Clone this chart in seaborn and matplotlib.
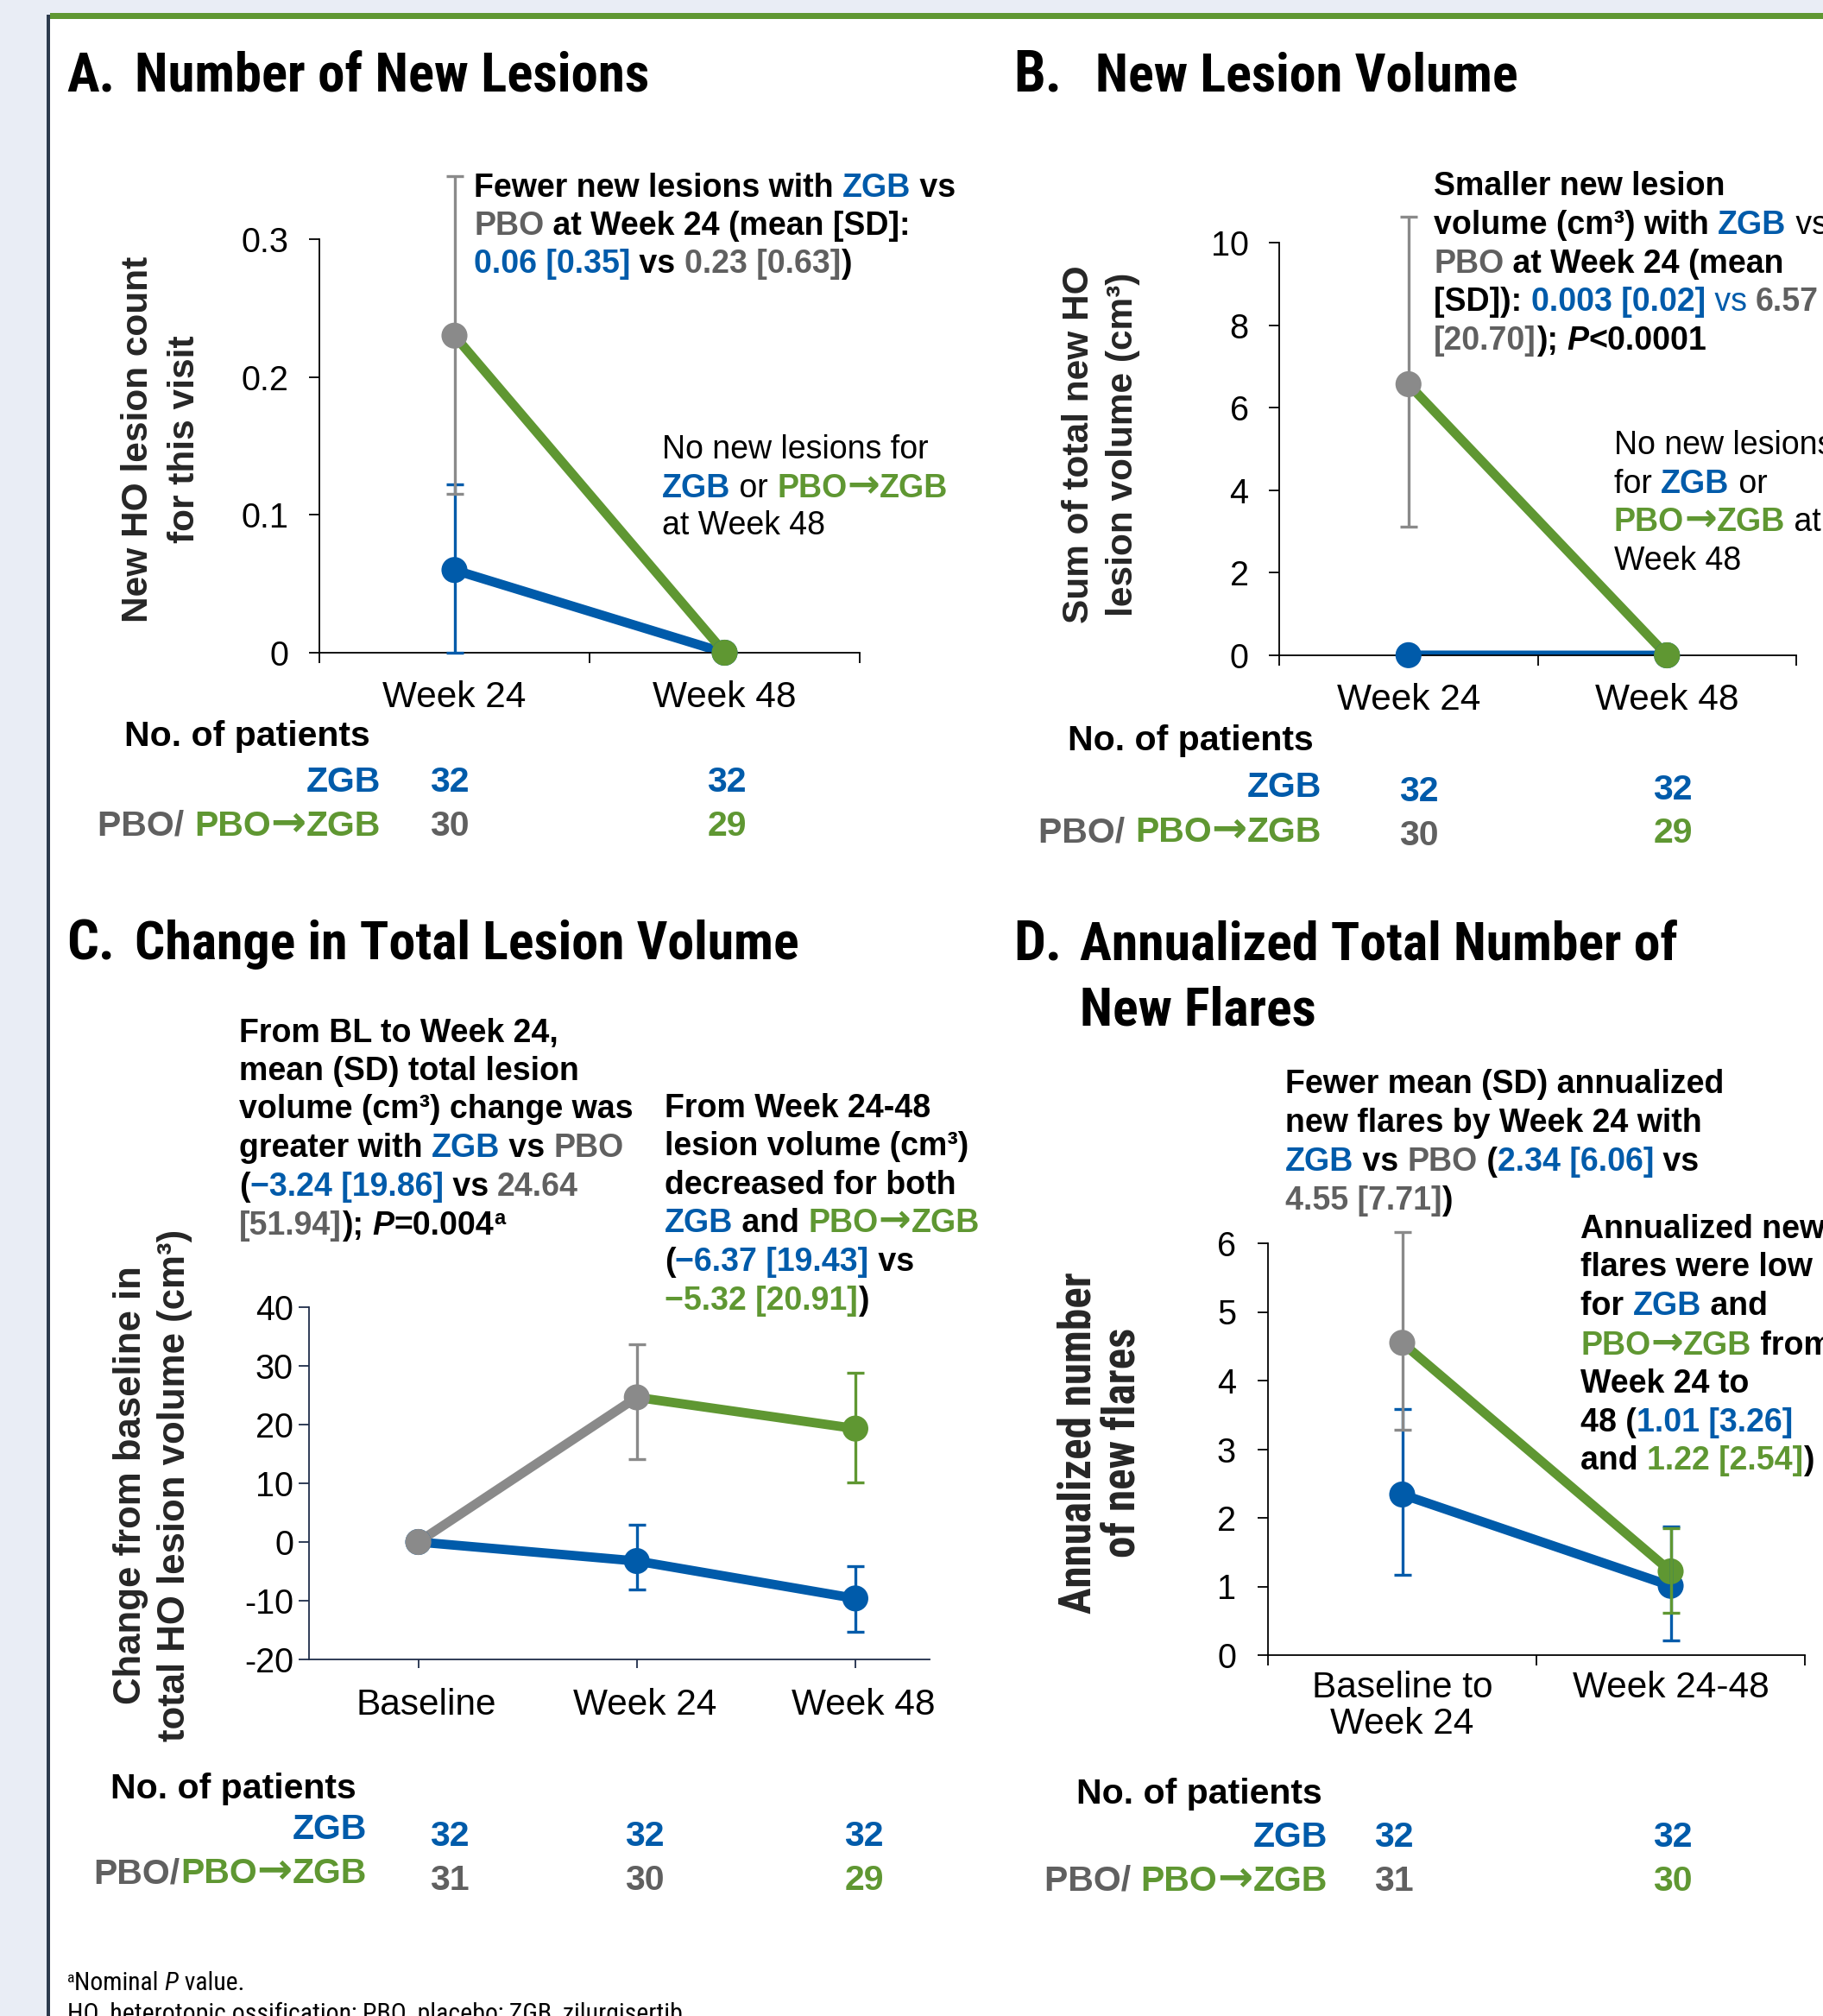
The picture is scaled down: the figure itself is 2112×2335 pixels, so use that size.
import numpy as np
import pandas as pd
import matplotlib
matplotlib.use("Agg")
import matplotlib.pyplot as plt
from matplotlib.patches import Rectangle
from matplotlib.transforms import ScaledTranslation
from matplotlib import font_manager
import seaborn as sns

sns.set_theme(style="white")
plt.rcParams['font.family'] = ['Liberation Sans', 'DejaVu Sans']
plt.rcParams['axes.unicode_minus'] = False

W, H = 2112, 2335
BLUE = '#005baa'
GREEN = '#5f9732'
GREY = '#8a8a8a'
GREY_TXT = '#606060'
BG = '#e9edf5'

SANS = dict(family=['Liberation Sans', 'DejaVu Sans'])
ARROW = dict(family=['DejaVu Sans'])
_names = {f.name for f in font_manager.fontManager.ttflist}
_narrow = [n for n in ['Liberation Sans Narrow', 'Arial Narrow', 'Roboto Condensed',
                       'Noto Sans Condensed', 'Open Sans Condensed'] if n in _names]
if _narrow:
    NARROW = dict(family=[_narrow[0], 'Liberation Sans', 'DejaVu Sans'])
else:
    NARROW = dict(family=['Roboto', 'Liberation Sans', 'DejaVu Sans'])

PALETTE = {'ZGB': BLUE, 'PBO': GREY, 'PBO→ZGB': GREEN}
NUM_COL = {'ZGB': BLUE, 'PBO': GREY_TXT, 'PBO→ZGB': GREEN}

# ---- A. number of new lesions
a_cats = ['Week 24', 'Week 48']
a_zgb = [0.06, 0.0]
a_zgb_lo = [0.0, np.nan]
a_zgb_hi = [0.122, np.nan]
a_ctl_arm = ['PBO', 'PBO→ZGB']
a_ctl = [0.23, 0.0]
a_ctl_lo = [0.115, np.nan]
a_ctl_hi = [0.346, np.nan]
a_n_zgb = [32, 32]
a_n_ctl = [30, 29]

# ---- B. new lesion volume
b_cats = ['Week 24', 'Week 48']
b_zgb = [0.003, 0.0]
b_zgb_lo = [np.nan, np.nan]
b_zgb_hi = [np.nan, np.nan]
b_ctl_arm = ['PBO', 'PBO→ZGB']
b_ctl = [6.57, 0.0]
b_ctl_lo = [3.12, np.nan]
b_ctl_hi = [10.63, np.nan]
b_n_zgb = [32, 32]
b_n_ctl = [30, 29]

# ---- C. change in total lesion volume
c_cats = ['Baseline', 'Week 24', 'Week 48']
c_zgb = [0.0, -3.24, -9.61]
c_zgb_lo = [np.nan, -8.1, -15.3]
c_zgb_hi = [np.nan, 2.9, -4.1]
c_ctl_arm = ['PBO', 'PBO', 'PBO→ZGB']
c_ctl = [0.0, 24.64, 19.32]
c_ctl_lo = [np.nan, 14.1, 10.1]
c_ctl_hi = [np.nan, 33.7, 28.8]
c_n_zgb = [32, 32, 32]
c_n_ctl = [31, 30, 29]

# ---- D. annualized new flares
d_cats = ['Baseline to\nWeek 24', 'Week 24-48']
d_zgb = [2.34, 1.01]
d_zgb_lo = [1.17, 0.21]
d_zgb_hi = [3.58, 1.87]
d_ctl_arm = ['PBO', 'PBO→ZGB']
d_ctl = [4.55, 1.22]
d_ctl_lo = [3.28, 0.62]
d_ctl_hi = [6.16, 1.85]
d_n_zgb = [32, 32]
d_n_ctl = [31, 30]

fig = plt.figure(figsize=(W / 100, H / 100), dpi=100)
fig.patch.set_facecolor(BG)
fig.add_artist(Rectangle((57 / W, 0), 1 - 57 / W, 1 - 20 / H, transform=fig.transFigure,
                         facecolor='white', edgecolor='none', zorder=-10))
fig.add_artist(Rectangle((54 / W, 0), 4 / W, 1 - 17 / H, transform=fig.transFigure,
                         facecolor='#2d3b4e', edgecolor='none', zorder=-9))
fig.add_artist(Rectangle((58 / W, 1 - 22 / H), 1, 7 / H, transform=fig.transFigure,
                         facecolor=GREEN, edgecolor='none', zorder=-9))
R = fig.canvas.get_renderer()


def text_width(s, **kw):
    t1 = fig.text(0, 0, s + '|', **kw)
    t2 = fig.text(0, 0, '|', **kw)
    w = t1.get_window_extent(R).width - t2.get_window_extent(R).width
    t1.remove()
    t2.remove()
    return w


def split_arrows(parts, size):
    out = []
    for part in parts:
        s, c = part[0], part[1]
        opt = part[2] if len(part) > 2 else {}
        bits = s.split('→')
        for i, b in enumerate(bits):
            if i > 0:
                out.append(('→', c, {**opt, 'font': ARROW,
                                     'size': opt.get('size', size) * 1.2}))
            if b:
                out.append((b, c, opt))
    return out


def rich(x, y, parts, size=27, weight='bold', ha='left', font=SANS, fit=None):
    parts = split_arrows(parts, size)

    def layout(scale):
        items = []
        for s, c, opt in parts:
            kw = dict(fontsize=opt.get('size', size) * scale, weight=opt.get('weight', weight),
                      style=opt.get('style', 'normal'), **opt.get('font', font))
            items.append((s, c, kw, opt.get('dy', 0) * scale, text_width(s, **kw)))
        return items

    items = layout(1.0)
    total = sum(it[4] for it in items)
    if fit is not None:
        items = layout(fit / total)
        total = sum(it[4] for it in items)
    if ha == 'right':
        x -= total
    elif ha == 'center':
        x -= total / 2
    for s, c, kw, dy, w in items:
        fig.text(x / W, 1 - (y + dy) / H, s, color=c, va='baseline', ha='left', **kw)
        x += w


def ylab(x, y, s, size=30.5, font=SANS, fit=None):
    if fit is not None:
        size = size * fit / text_width(s, fontsize=size, weight='bold', **font)
    fig.text(x / W, 1 - y / H, s, rotation=90, ha='center', va='center',
             fontsize=size, weight='bold', **font)
    return size


def make_ax(x0, x1, y0, y1):
    ax = fig.add_axes([x0 / W, 1 - y1 / H, (x1 - x0) / W, (y1 - y0) / H])
    ax.set_facecolor('none')
    sns.despine(ax=ax)
    return ax


def draw(ax, cats, zgb, zgb_lo, zgb_hi, ctl, ctl_arm, ctl_lo, ctl_hi):
    pos = list(range(len(cats)))
    rows = [dict(x=p, y=v, seg='ZGB') for p, v in zip(pos, zgb)]
    for i in range(1, len(pos)):
        seg = f'{ctl_arm[i]}#{i}'
        rows += [dict(x=pos[i - 1], y=ctl[i - 1], seg=seg), dict(x=pos[i], y=ctl[i], seg=seg)]
    lines = pd.DataFrame(rows)
    pal = {s: PALETTE[s.split('#')[0]] for s in lines['seg'].unique()}
    sns.lineplot(data=lines, x='x', y='y', hue='seg', palette=pal, estimator=None, sort=False,
                 linewidth=7.8, legend=False, ax=ax, zorder=2, solid_capstyle='round')
    pts = pd.DataFrame({'x': pos + pos, 'y': list(zgb) + list(ctl),
                        'arm': ['ZGB'] * len(pos) + list(ctl_arm)})
    sns.scatterplot(data=pts, x='x', y='y', hue='arm', palette=PALETTE, s=470, linewidth=0,
                    legend=False, ax=ax, zorder=3, clip_on=False)
    for vals, lo, hi, arms in [(zgb, zgb_lo, zgb_hi, ['ZGB'] * len(pos)),
                               (ctl, ctl_lo, ctl_hi, ctl_arm)]:
        for p, v, l, h, a in zip(pos, vals, lo, hi, arms):
            if np.isnan(l):
                continue
            eb = ax.errorbar(p, v, yerr=[[v - l], [h - v]], fmt='none', ecolor=PALETTE[a],
                             elinewidth=2.4, capsize=7, capthick=2.4, zorder=4)
            for art in list(eb.lines[1]) + list(eb.lines[2]):
                art.set_clip_on(False)
    ax.set_xlabel('')
    ax.set_ylabel('')


def style(ax, cats, xlim, ylim, yticks, ylabels, between, xpad, ylen, ypad, spine='black'):
    ax.set_xlim(*xlim)
    ax.set_ylim(*ylim)
    ax.set_yticks(yticks)
    ax.set_yticklabels(ylabels)
    for sp in ['left', 'bottom']:
        ax.spines[sp].set_color(spine)
        ax.spines[sp].set_linewidth(1.3)
    ax.tick_params(axis='y', left=True, direction='out', length=ylen, width=1.3,
                   pad=ypad, labelsize=28.5, colors=spine, labelcolor='black')
    n = len(cats)
    if between:
        ax.set_xticks([i - 0.5 for i in range(n + 1)])
        ax.set_xticklabels([''] * (n + 1))
        ax.set_xticks(list(range(n)), minor=True)
        ax.set_xticklabels(cats, minor=True)
        ax.tick_params(axis='x', which='major', bottom=True, direction='out', length=8.3,
                       width=1.3, colors=spine)
        ax.tick_params(axis='x', which='minor', bottom=True, length=0, pad=xpad,
                       labelsize=30.5, labelcolor='black')
    else:
        ax.set_xticks(list(range(n)))
        ax.set_xticklabels(cats)
        ax.tick_params(axis='x', bottom=True, direction='out', length=7.5, width=1.3,
                       pad=xpad, labelsize=30.5, colors=spine, labelcolor='black')
    for t in ax.get_xticklabels(minor=True) + ax.get_xticklabels():
        t.set_linespacing(1.05)


def counts(ax_x, y_zgb, y_ctl, n_zgb, n_ctl, arms, label_x, top_y, row_y, ctl_label):
    rich(label_x, top_y, [('No. of patients', 'black')], size=29.5)
    rich(row_y[0], row_y[1], [('ZGB', BLUE)], size=29.5, ha='right')
    rich(row_y[0], row_y[2], ctl_label, size=29.5, ha='right')
    for x, yz, yc, nz, nc, a in zip(ax_x, y_zgb, y_ctl, n_zgb, n_ctl, arms):
        rich(x, yz, [(str(nz), BLUE)], size=29.5, ha='center')
        rich(x, yc, [(str(nc), NUM_COL[a])], size=29.5, ha='center')


# ================= Panel A
axA = make_ax(370, 996, 277, 756)
draw(axA, a_cats, a_zgb, a_zgb_lo, a_zgb_hi, a_ctl, a_ctl_arm, a_ctl_lo, a_ctl_hi)
style(axA, a_cats, (-0.5, 1.5), (0, 0.3), [0, 0.1, 0.2, 0.3], ['0', '0.1', '0.2', '0.3'],
      True, 23, 8.5, 17)

# ================= Panel B
axB = make_ax(1482, 2081, 281, 759)
draw(axB, b_cats, b_zgb, b_zgb_lo, b_zgb_hi, b_ctl, b_ctl_arm, b_ctl_lo, b_ctl_hi)
style(axB, b_cats, (-0.5, 1.5), (0, 10), [0, 2, 4, 6, 8, 10], ['0', '2', '4', '6', '8', '10'],
      True, 23, 8.5, 17)

# ================= Panel C
axC = make_ax(358, 1077, 1514, 1922)
draw(axC, c_cats, c_zgb, c_zgb_lo, c_zgb_hi, c_ctl, c_ctl_arm, c_ctl_lo, c_ctl_hi)
style(axC, c_cats, (-0.5, 2.34), (-20, 40), list(range(-20, 41, 10)),
      [str(v) for v in range(-20, 41, 10)], False, 16.5, 9, 4, spine='#1f2d4a')
# labels in the reference sit a little right of their ticks
for t in axC.get_xticklabels():
    t.set_transform(t.get_transform() + ScaledTranslation(0.09, 0, fig.dpi_scale_trans))

# ================= Panel D
axD = make_ax(1469, 2091, 1440, 1917)
draw(axD, d_cats, d_zgb, d_zgb_lo, d_zgb_hi, d_ctl, d_ctl_arm, d_ctl_lo, d_ctl_hi)
style(axD, d_cats, (-0.5, 1.5), (0, 6), list(range(7)), [str(v) for v in range(7)],
      True, 13, 8.6, 18)

# ---- titles (fitted to the widths seen in the reference)
TITLE = dict(size=44, font=NARROW)
rich(77, 105, [('A.', 'black')], fit=56, **TITLE)
rich(156, 105, [('Number of New Lesions', 'black')], fit=596, **TITLE)
rich(1174, 105, [('B.', 'black')], fit=56, **TITLE)
rich(1269, 105, [('New Lesion Volume', 'black')], fit=490, **TITLE)
rich(77, 1111, [('C.', 'black')], fit=56, **TITLE)
rich(156, 1111, [('Change in Total Lesion Volume', 'black')], fit=771, **TITLE)
rich(1174, 1111, [('D.', 'black')], fit=56, **TITLE)
rich(1251, 1111, [('Annualized Total Number of', 'black')], fit=693, **TITLE)
rich(1251, 1187, [('New Flares', 'black')], fit=274, **TITLE)

# ---- y labels
ylab(160, 509, 'New HO lesion count')
ylab(214, 509, 'for this visit')
ylab(1250, 515, 'Sum of total new HO')
ylab(1301, 515, 'lesion volume (cm³)')
ylab(151, 1720, 'Change from baseline in', size=31.5)
ylab(203, 1720, 'total HO lesion volume (cm³)', size=31.5)
dsz = ylab(1250, 1671, 'Annualized number', size=36, font=NARROW, fit=396)
ylab(1301, 1671, 'of new flares', size=dsz, font=NARROW)

K = 'black'
REG = {'weight': 'normal'}
BOLD = {'weight': 'bold'}
ITAL = {'style': 'italic'}

# ---- annotations A
rich(549, 228, [('Fewer new lesions with ', K), ('ZGB', BLUE), (' vs', K)])
rich(549, 272, [('PBO', GREY_TXT), (' at Week 24 (mean [SD]:', K)])
rich(549, 316, [('0.06 [0.35]', BLUE), (' vs ', K), ('0.23 [0.63]', GREY_TXT), (')', K)])
rich(767, 531, [('No new lesions for', K)], weight='normal')
rich(767, 576, [('ZGB', BLUE, BOLD), (' or ', K), ('PBO→ZGB', GREEN, BOLD)], weight='normal')
rich(767, 619, [('at Week 48', K)], weight='normal')

# ---- annotations B
rich(1661, 226, [('Smaller new lesion', K)])
rich(1661, 271, [('volume (cm³) with ', K), ('ZGB', BLUE), (' vs', K, REG)])
rich(1661, 316, [('PBO', GREY_TXT), (' at Week 24 (mean', K)])
rich(1661, 360, [('[SD]): ', K), ('0.003 [0.02]', BLUE), (' vs ', BLUE, REG), ('6.57', GREY_TXT)])
rich(1661, 405, [('[20.70]', GREY_TXT), ('); ', K), ('P', K, ITAL), ('<0.0001', K)])
rich(1870, 526, [('No new lesions', K)], weight='normal')
rich(1870, 571, [('for ', K), ('ZGB', BLUE, BOLD), (' or', K)], weight='normal')
rich(1870, 615, [('PBO→ZGB', GREEN, BOLD), (' at', K)], weight='normal')
rich(1870, 660, [('Week 48', K)], weight='normal')

# ---- annotations C
rich(277, 1207, [('From BL to Week 24,', K)])
rich(277, 1251, [('mean (SD) total lesion', K)])
rich(277, 1295, [('volume (cm³) change was', K)])
rich(277, 1340, [('greater with ', K), ('ZGB', BLUE), (' vs ', K), ('PBO', GREY_TXT)])
rich(277, 1385, [('(', K), ('−3.24 [19.86]', BLUE), (' vs ', K), ('24.64', GREY_TXT)])
rich(277, 1430, [('[51.94]', GREY_TXT), ('); ', K), ('P', K, ITAL), ('=0.004', K),
                 ('a', K, {'size': 17, 'dy': -12})])
rich(770, 1294, [('From Week 24-48', K)])
rich(770, 1338, [('lesion volume (cm³)', K)])
rich(770, 1383, [('decreased for both', K)])
rich(770, 1427, [('ZGB', BLUE), (' and ', K), ('PBO→ZGB', GREEN)])
rich(770, 1472, [('(', K), ('−6.37 [19.43]', BLUE), (' vs', K)])
rich(770, 1517, [('−5.32 [20.91]', GREEN), (')', K)])

# ---- annotations D
rich(1489, 1266, [('Fewer mean (SD) annualized', K)])
rich(1489, 1311, [('new flares by Week 24 with', K)])
rich(1489, 1356, [('ZGB', BLUE), (' vs ', K), ('PBO', GREY_TXT), (' (', K), ('2.34 [6.06]', BLUE),
                  (' vs', K)])
rich(1489, 1401, [('4.55 [7.71]', GREY_TXT), (')', K)])
rich(1831, 1434, [('Annualized new', K)])
rich(1831, 1478, [('flares were low', K)])
rich(1831, 1523, [('for ', K), ('ZGB', BLUE), (' and', K)])
rich(1831, 1569, [('PBO→ZGB', GREEN), (' from', K)])
rich(1831, 1613, [('Week 24 to', K)])
rich(1831, 1658, [('48 (', K), ('1.01 [3.26]', BLUE)])
rich(1831, 1702, [('and ', K), ('1.22 [2.54]', GREEN), (')', K)])

# ---- patient counts
CTL_SP = [('PBO/ ', GREY_TXT), ('PBO→ZGB', GREEN)]
CTL_NS = [('PBO/', GREY_TXT), ('PBO→ZGB', GREEN)]
counts([521, 842], [917, 917], [968, 968], a_n_zgb, a_n_ctl, a_ctl_arm,
       144, 864, (441, 917, 968), CTL_SP)
counts([1644, 1938], [928, 926], [979, 976], b_n_zgb, b_n_ctl, b_ctl_arm,
       1237, 869, (1531, 923, 975), CTL_SP)
counts([521, 747, 1001], [2138] * 3, [2189] * 3, c_n_zgb, c_n_ctl, c_ctl_arm,
       128, 2083, (425, 2130, 2181), CTL_NS)
counts([1615, 1938], [2139] * 2, [2190] * 2, d_n_zgb, d_n_ctl, d_ctl_arm,
       1247, 2089, (1538, 2139, 2190), CTL_SP)

# ---- footnotes
rich(78, 2305, [('a', K, {'size': 13, 'dy': -9}), ('Nominal ', K), ('P', K, ITAL), (' value.', K)],
     size=22, weight='normal', font=NARROW, fit=205)
rich(78, 2341, [('HO, heterotopic ossification; PBO, placebo; ZGB, zilurgisertib', K)],
     size=22, weight='normal', font=NARROW, fit=714)

fig.savefig('out.png', dpi=100, facecolor=fig.get_facecolor())
